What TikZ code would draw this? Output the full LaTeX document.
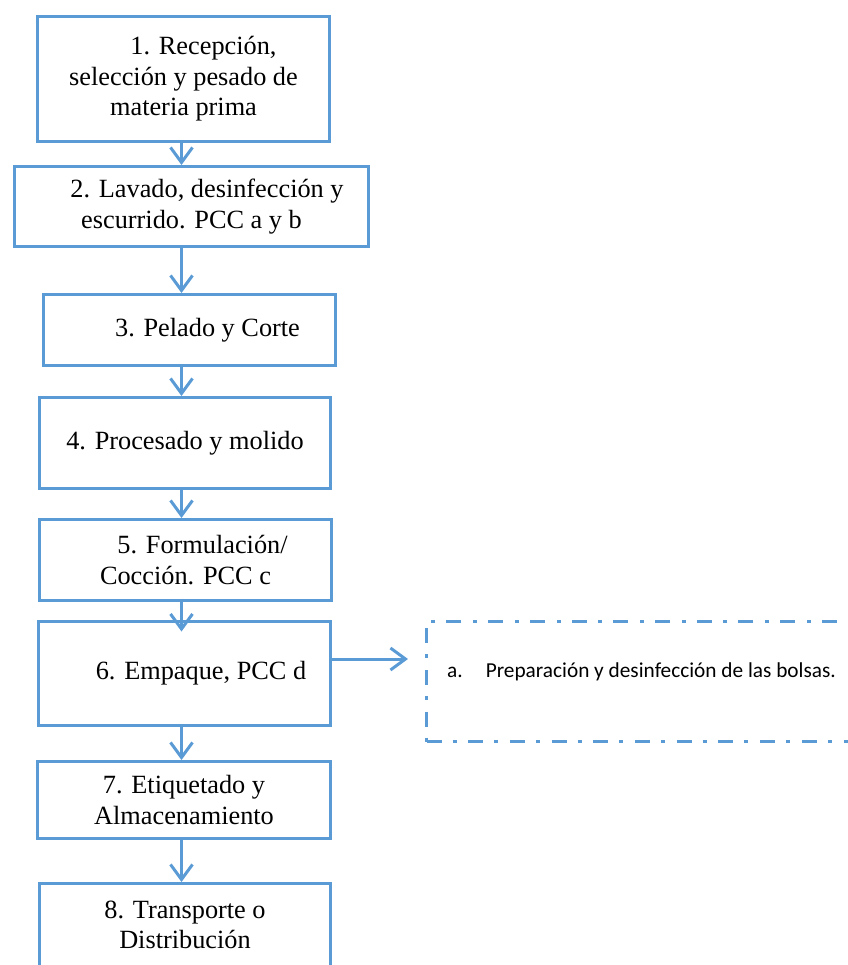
\documentclass[tikz,border=0pt]{standalone}
\usepackage{fontspec}
\setmainfont{Liberation Serif}
\newfontfamily\notefont{Carlito}
\usetikzlibrary{arrows.meta}
\definecolor{boxblue}{RGB}{91,155,213}
\tikzset{
    stepbox/.style={draw=boxblue, line width=3pt, align=center, inner sep=0pt,
        font=\fontsize{26.3}{30.5}\selectfont},
    notebox/.style={draw=boxblue, line width=3pt, inner sep=0pt,
        dash pattern=on 15pt off 11pt on 4pt off 11.7pt},
    flow/.style={draw=boxblue, line width=3pt, -{Straight Barb[length=15pt, width=22pt]}}
}
\begin{document}
\begin{tikzpicture}[x=1pt, y=-1pt]
            \useasboundingbox (0,0) rectangle (847,965);
            \coordinate (axis) at (181.5,0);
            \node[stepbox, minimum width=292, minimum height=125] (b1) at (183.5,79)  {\hspace*{40pt}1. Recepción,\\selección y pesado de\\materia prima};
            \node[stepbox, minimum width=354, minimum height=80]  (b2) at (191.5,206.5) {\hspace*{31pt}2. Lavado, desinfección y\\escurrido. PCC a y b};
            \node[stepbox, minimum width=292, minimum height=71]  (b3) at (189.5,330) {\hspace*{36pt}3. Pelado y Corte};
            \node[stepbox, minimum width=291, minimum height=91]  (b4) at (185,443)   {4. Procesado y molido};
            \node[stepbox, minimum width=292, minimum height=81]  (b5) at (185.5,560) {\hspace*{34pt}5. Formulación/\\Cocción. PCC c};
            \node[stepbox, minimum width=292, minimum height=104] (b6) at (184.5,673.5) {\hspace*{33pt}6. Empaque, PCC d};
            \node[stepbox, minimum width=293, minimum height=77]  (b7) at (184,800)   {7. Etiquetado y\\Almacenamiento};
            \node[stepbox, minimum width=291, minimum height=83]  (b8) at (185,925)   {8. Transporte o\\Distribución};
            \node[notebox, minimum width=437, minimum height=120] (note) at (645,681.5) {};
            \node[anchor=west, inner sep=0pt, font=\notefont\fontsize{21.3}{25}\selectfont] (notetxt) at (447,672) {a.\hspace{23pt}Preparación y desinfección de las bolsas.};
            \foreach \a/\b in {b1/b2, b2/b3, b3/b4, b4/b5, b6/b7, b7/b8}
                \draw[flow] (\a.south -| axis) -- (\b.north -| axis);
            \draw[flow, shorten <=-3.5pt, shorten >=-11.5pt] (b5.south -| axis) -- (b6.north -| axis);
            \draw[flow, shorten >=17pt] ([yshift=14.5pt]b6.east) -- ([yshift=14.5pt]b6.east -| note.west);
        \end{tikzpicture}
\end{document}
